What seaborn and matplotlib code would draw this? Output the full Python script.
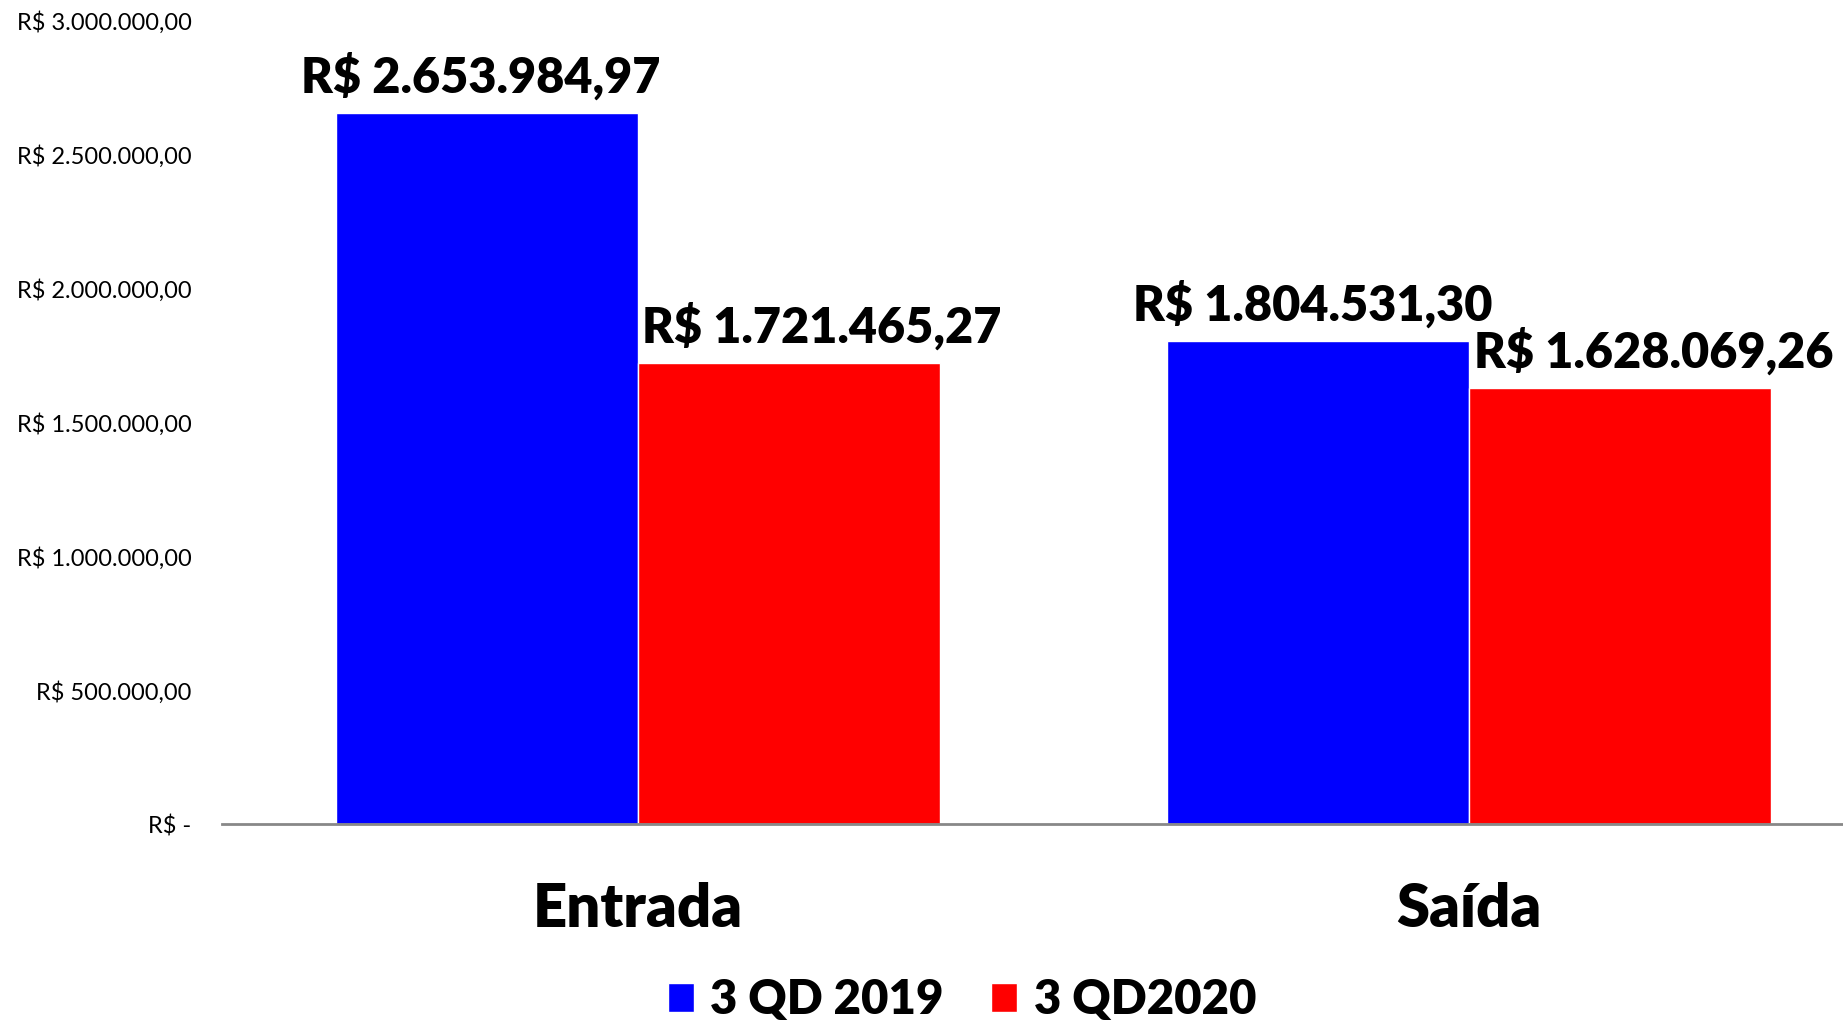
import matplotlib
matplotlib.use("Agg")
import matplotlib.pyplot as plt
import seaborn as sns
import pandas as pd
from matplotlib.ticker import FuncFormatter

# data
categorias = ["Entrada", "Saída"]
series = ["3 QD 2019", "3 QD2020"]
valores_2019 = [2653984.97, 1804531.30]
valores_2020 = [1721465.27, 1628069.26]
cores = {"3 QD 2019": "#0000FF", "3 QD2020": "#FF0000"}
y_ticks = [0, 500000, 1000000, 1500000, 2000000, 2500000, 3000000]

df = pd.DataFrame({
    "categoria": categorias * 2,
    "serie": [series[0]] * 2 + [series[1]] * 2,
    "valor": valores_2019 + valores_2020,
})

sns.set_style("white")
plt.rcParams["font.family"] = ["Lato", "DejaVu Sans"]
plt.rcParams["text.color"] = "black"
plt.rcParams["xtick.color"] = "black"
plt.rcParams["ytick.color"] = "black"


def brl(v, pos=None):
    if v == 0:
        return "R$ -"
    s = f"{v:,.2f}"
    s = s.replace(",", "X").replace(".", ",").replace("X", ".")
    return "R$ " + s


fig = plt.figure(figsize=(18.43, 10.22), dpi=100)
ax = fig.add_axes([0.1205, 0.1937, 0.8795, 0.7863])

sns.barplot(data=df, x="categoria", y="valor", hue="serie", order=categorias,
            hue_order=series, palette=cores, saturation=1, width=0.727,
            ax=ax, legend=True)

ax.set_xlim(-0.5, 1.45)
ax.set_ylim(0, 3000000)
ax.set_yticks(y_ticks)
ax.yaxis.set_major_formatter(FuncFormatter(brl))
ax.set_xlabel("")
ax.set_ylabel("")

for s in ["top", "right", "left"]:
    ax.spines[s].set_visible(False)
ax.spines["bottom"].set_color("#888888")
ax.spines["bottom"].set_linewidth(2)

ax.tick_params(axis="y", length=0, pad=22, labelsize=17, labelcolor="black")
ax.tick_params(axis="x", length=0, pad=42, labelcolor="black")
for lbl in ax.get_xticklabels():
    lbl.set_fontsize(43)
    lbl.set_fontweight("heavy")

# value labels above the bars
for i, cont in enumerate(ax.containers):
    dx = -4 if i == 0 else 24
    for bar in cont:
        h = bar.get_height()
        ax.annotate(brl(h), (bar.get_x() + bar.get_width() / 2, h),
                    xytext=(dx, 9), textcoords="offset points",
                    ha="center", va="bottom", fontsize=35,
                    fontweight="heavy", color="black", annotation_clip=False)

handles, labels = ax.get_legend_handles_labels()
ax.get_legend().remove()
leg = fig.legend(handles, labels, loc="lower center", bbox_to_anchor=(0.522, -0.042),
                 ncol=2, frameon=False, handlelength=0.55, handleheight=0.55,
                 handletextpad=0.35, columnspacing=1.0, labelcolor="black",
                 prop={"size": 34, "weight": "heavy"})

fig.savefig("out.png", dpi=100)
